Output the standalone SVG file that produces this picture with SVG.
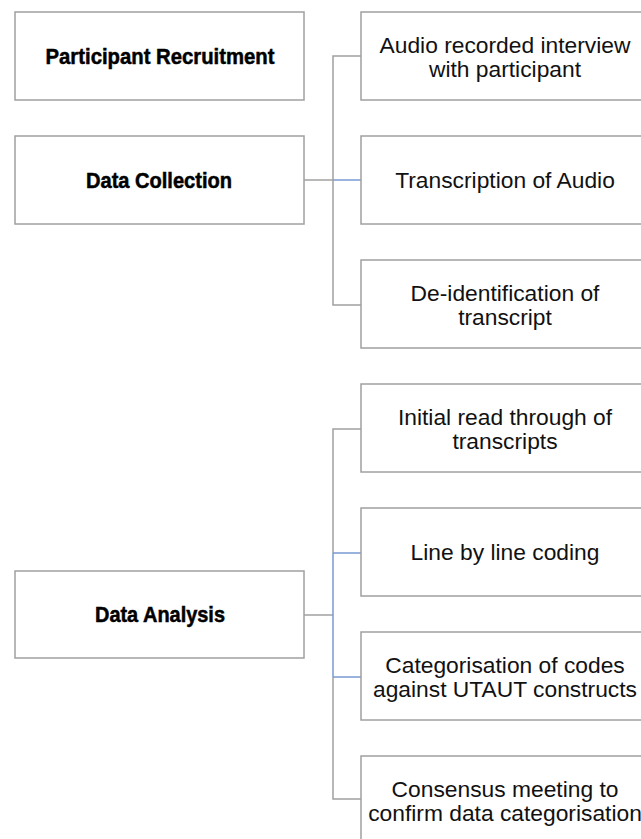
<svg xmlns="http://www.w3.org/2000/svg" width="641" height="839" viewBox="0 0 641 839">
<style>
.box{fill:#fff;stroke:#a0a0a0;stroke-width:1.5}
.hd{font-family:"Liberation Sans",Arial,sans-serif;font-weight:bold;font-size:22px;fill:#000;stroke:#000;stroke-width:0.5;text-anchor:middle}
.tx{font-family:"Liberation Sans",Arial,sans-serif;font-size:22.8px;fill:#111;text-anchor:middle}
.ln{fill:none;stroke:#a0a0a0;stroke-width:1.5}
.bl{fill:none;stroke:#7a9bd4;stroke-width:1.5}
</style>
<rect width="641" height="839" fill="#fff"/>
<g id="connectors">
<path class="ln" d="M361 56H333V305H361"/>
<path class="ln" d="M304 180H333"/>
<path class="bl" d="M333 180H361"/>
<path class="ln" d="M361 429H333V553M333 677V799H361"/>
<path class="ln" d="M304 615H333"/>
<path class="bl" d="M333 553V677M333 553H361M333 677H361"/>
</g>
<g id="participant-recruitment"><rect class="box" x="15" y="12" width="289" height="88"/><text class="hd" x="160" y="64" textLength="229" lengthAdjust="spacingAndGlyphs">Participant Recruitment</text></g>
<g id="data-collection"><rect class="box" x="15" y="136" width="289" height="88"/><text class="hd" x="159" y="188" textLength="146" lengthAdjust="spacingAndGlyphs">Data Collection</text></g>
<g id="data-analysis"><rect class="box" x="15" y="571" width="289" height="87"/><text class="hd" x="160" y="622" textLength="130" lengthAdjust="spacingAndGlyphs">Data Analysis</text></g>
<g id="audio"><rect class="box" x="361" y="12" width="290" height="88"/><text class="tx" x="505" y="53">Audio recorded interview</text><text class="tx" x="505" y="77">with participant</text></g>
<g id="transcription"><rect class="box" x="361" y="136" width="290" height="88"/><text class="tx" x="505" y="188">Transcription of Audio</text></g>
<g id="deidentification"><rect class="box" x="361" y="260" width="290" height="88"/><text class="tx" x="505" y="301">De-identification of</text><text class="tx" x="505" y="325">transcript</text></g>
<g id="initial-read"><rect class="box" x="361" y="384" width="290" height="88"/><text class="tx" x="505" y="425">Initial read through of</text><text class="tx" x="505" y="449">transcripts</text></g>
<g id="line-coding"><rect class="box" x="361" y="508" width="290" height="88"/><text class="tx" x="505" y="560">Line by line coding</text></g>
<g id="categorisation"><rect class="box" x="361" y="632" width="290" height="88"/><text class="tx" x="505" y="673">Categorisation of codes</text><text class="tx" x="505" y="697">against UTAUT constructs</text></g>
<g id="consensus"><rect class="box" x="361" y="756" width="290" height="88"/><text class="tx" x="505" y="797">Consensus meeting to</text><text class="tx" x="505" y="821">confirm data categorisation</text></g>
</svg>
